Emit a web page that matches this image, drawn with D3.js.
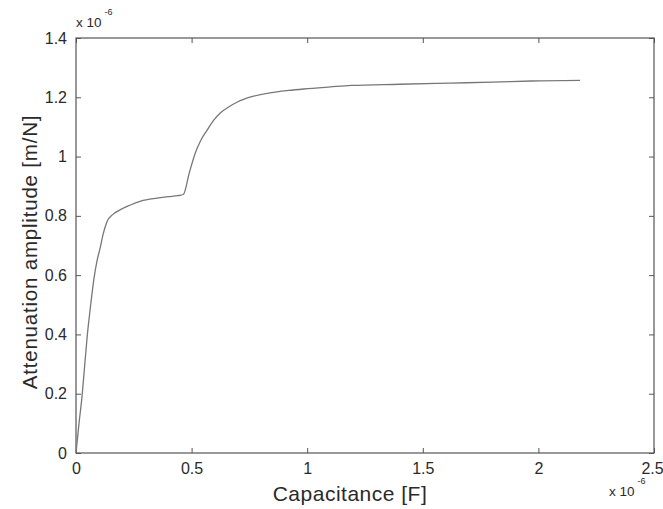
<!DOCTYPE html>
<html><head><meta charset="utf-8">
<script src="https://cdn.jsdelivr.net/npm/d3@7"></script>
<style>body{margin:0;background:#fff}text{font-family:"Liberation Sans",Arial,sans-serif}</style>
</head><body><svg id="c" width="663" height="509"></svg>
<script>
const capacitance = [0, 0.013, 0.026, 0.037, 0.048, 0.062, 0.078, 0.09, 0.104, 0.118, 0.134, 0.16, 0.19, 0.23, 0.28, 0.35, 0.40, 0.44, 0.464, 0.49, 0.516, 0.54, 0.568, 0.595, 0.624, 0.66, 0.698, 0.76, 0.84, 0.92, 0.985, 1.10, 1.19, 1.40, 1.62, 1.80, 1.97, 2.18];
const amplitude   = [0, 0.10, 0.19, 0.29, 0.39, 0.49, 0.59, 0.645, 0.69, 0.74, 0.78, 0.805, 0.82, 0.835, 0.85, 0.86, 0.865, 0.868, 0.872, 0.945, 1.012, 1.055, 1.09, 1.122, 1.147, 1.167, 1.184, 1.202, 1.215, 1.223, 1.228, 1.235, 1.24, 1.244, 1.248, 1.251, 1.255, 1.257];
const xTicks = [0, 0.5, 1, 1.5, 2, 2.5];
const yTicks = [0, 0.2, 0.4, 0.6, 0.8, 1, 1.2, 1.4];
const xLabel = "Capacitance [F]";
const yLabel = "Attenuation amplitude [m/N]";

const svg = d3.select("#c");
const L = 76, T = 38, R = 654, B = 453;
const x = d3.scaleLinear().domain([0, 2.5]).range([L, R]);
const y = d3.scaleLinear().domain([0, 1.4]).range([B, T]);
const axisCol = "#555", textCol = "#2a2a2a";

// box
svg.append("rect").attr("x", L).attr("y", T).attr("width", R - L).attr("height", B - T)
  .attr("fill", "none").attr("stroke", axisCol).attr("stroke-width", 1.2);

const fmt = d => d3.format("")(+d.toFixed(1));
const axes = [
  d3.axisBottom(x).tickValues(xTicks).tickSize(-5).tickPadding(10).tickFormat(fmt),
  d3.axisTop(x).tickValues(xTicks).tickSize(-5).tickFormat(""),
  d3.axisLeft(y).tickValues(yTicks).tickSize(-5).tickPadding(9).tickFormat(fmt),
  d3.axisRight(y).tickValues(yTicks).tickSize(-5).tickFormat("")
];
const trans = [`translate(0,${B})`, `translate(0,${T})`, `translate(${L},0)`, `translate(${R},0)`];
axes.forEach((a, i) => {
  const g = svg.append("g").attr("transform", trans[i]).call(a);
  g.select(".domain").remove();
  g.selectAll("line").attr("stroke", axisCol);
  g.selectAll("text").attr("fill", textCol).attr("font-size", 16)
    .style("font-family", '"Liberation Sans",Arial,sans-serif');
  if (i === 0) g.selectAll("text").filter(d => d === 2.5).attr("dx", -2);
});

// curve
svg.append("path")
  .datum(capacitance.map((c, i) => [c, amplitude[i]]))
  .attr("fill", "none").attr("stroke", "#777").attr("stroke-width", 1.3)
  .attr("d", d3.line().x(d => x(d[0])).y(d => y(d[1])).curve(d3.curveMonotoneX));

// exponent labels
function expo(px, py) {
  const t = svg.append("text").attr("x", px).attr("y", py).attr("fill", textCol).attr("font-size", 13.5);
  t.append("tspan").text("x 10");
  t.append("tspan").attr("dy", -12).attr("dx", 3).attr("font-size", 9).text("-6");
}
expo(76, 27);
expo(609, 496);

svg.append("text").attr("x", 350).attr("y", 501).attr("text-anchor", "middle")
  .attr("font-size", 21).attr("letter-spacing", 0.5).attr("fill", textCol).text(xLabel);
svg.append("text").attr("transform", `translate(37,252) rotate(-90)`)
  .attr("text-anchor", "middle").attr("font-size", 20.5).attr("letter-spacing", 0.8)
  .attr("fill", textCol).text(yLabel);
</script></body></html>
